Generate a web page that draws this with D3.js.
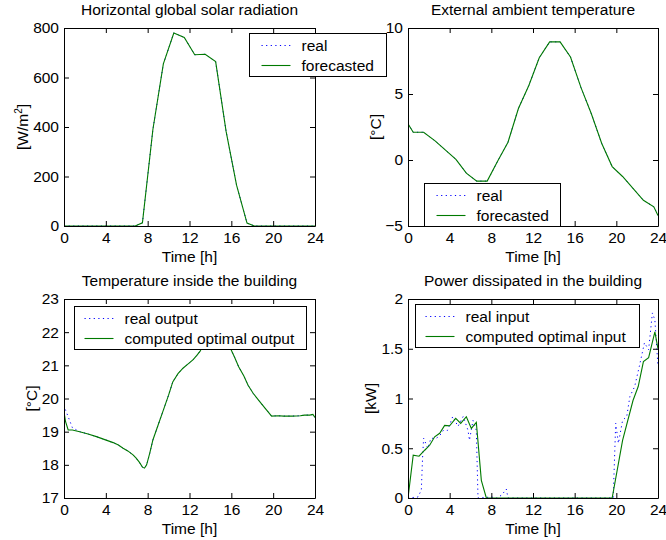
<!DOCTYPE html>
<html>
<head>
<meta charset="utf-8">
<script src="https://cdn.jsdelivr.net/npm/d3@7"></script>
<style>
  html, body { margin: 0; padding: 0; background: #fff; }
  svg { display: block; font-family: "Liberation Sans", Arial, Helvetica, sans-serif; }
  .tick text { fill: #000; }
  .tick line, .domain { stroke: #000; }
</style>
</head>
<body>
<div id="chart"></div>
<script>
// hours on the x axis
const hourTicks = [0, 4, 8, 12, 16, 20, 24]

// horizontal global solar radiation [W/m2]
const solarTime = [0, 6.8, 7.5, 8.5, 9.5, 10.5, 11.5, 12.5, 13.5, 14.5, 15.5, 16.5, 17.5, 18.2, 24]
const solarReal = [0, 0, 13, 390, 655, 780, 762, 692, 694, 664, 382, 165, 12, 0, 0]
const solarForecast = [0, 0, 13, 390, 655, 780, 762, 692, 694, 664, 382, 165, 12, 0, 0]

// external ambient temperature [°C]
const extTime = [0, 0.5, 1.5, 2.6, 3.6, 4.6, 5.6, 6.6, 7.6, 8.6, 9.6, 10.6, 11.6, 12.6, 13.6, 14.6, 15.6, 16.6, 17.6, 18.6, 19.6, 20.6, 21.6, 22.6, 23.6, 24]
const extReal = [2.75, 2.1, 2.1, 1.45, 0.75, 0.05, -1.0, -1.6, -1.6, -0.1, 1.35, 3.9, 5.65, 7.75, 8.95, 8.95, 7.8, 5.5, 3.5, 1.25, -0.5, -1.25, -2.15, -3.05, -3.55, -4.2]
const extForecast = [2.75, 2.1, 2.1, 1.45, 0.75, 0.05, -1.0, -1.6, -1.6, -0.1, 1.35, 3.9, 5.65, 7.75, 8.95, 8.95, 7.8, 5.5, 3.5, 1.25, -0.5, -1.25, -2.15, -3.05, -3.55, -4.2]

// temperature inside the building [°C]
const insideTime = [0, 0.15, 0.4, 0.8, 1.5, 2.3, 3.1, 3.9, 4.7, 5.2, 5.65, 6.1, 6.6, 6.9, 7.2, 7.5, 7.7, 7.9, 8.2, 8.5, 9.0, 9.5, 10.0, 10.4, 10.9, 11.4, 11.9, 12.35, 12.7, 13.0, 13.5, 14.0, 14.5, 15.0, 15.5, 15.9, 16.3, 16.7, 17.2, 17.6, 18.1, 18.6, 19.2, 19.85, 20.5, 21.0, 21.8, 22.6, 23.0, 23.5, 23.8, 24]
const insideReal = [19.8, 19.65, 19.45, 19.12, 19.0, 18.93, 18.85, 18.76, 18.67, 18.6, 18.5, 18.42, 18.3, 18.2, 18.08, 17.93, 17.9, 18.0, 18.35, 18.75, 19.2, 19.65, 20.1, 20.5, 20.75, 20.92, 21.05, 21.17, 21.3, 21.42, 21.72, 21.95, 22.1, 22.05, 21.8, 21.52, 21.25, 20.96, 20.68, 20.4, 20.15, 19.95, 19.72, 19.47, 19.48, 19.47, 19.47, 19.48, 19.5, 19.5, 19.52, 19.43]
const insideOptimal = [19.6, 19.3, 19.05, 19.05, 19.0, 18.93, 18.85, 18.76, 18.67, 18.6, 18.5, 18.42, 18.3, 18.2, 18.08, 17.93, 17.9, 18.0, 18.35, 18.75, 19.2, 19.65, 20.1, 20.5, 20.75, 20.92, 21.05, 21.17, 21.3, 21.42, 21.72, 21.95, 22.1, 22.05, 21.8, 21.52, 21.25, 20.96, 20.68, 20.4, 20.15, 19.95, 19.72, 19.47, 19.48, 19.47, 19.47, 19.48, 19.5, 19.5, 19.52, 19.43]

// power dissipated in the building [kW]
const powerRealTime = [0, 0.96, 1.28, 1.4, 1.5, 1.9, 2.2, 2.7, 3.0, 3.4, 3.8, 4.3, 4.8, 5.3, 5.76, 5.9, 6.24, 6.56, 6.72, 8.0, 8.5, 9.0, 9.44, 9.6, 19.7, 19.94, 20.2, 20.6, 21.0, 21.3, 21.76, 22.2, 22.7, 23.1, 23.46, 23.7, 24]
const powerReal = [0, 0.01, 0.08, 0.41, 0.6, 0.5, 0.6, 0.6, 0.62, 0.68, 0.68, 0.82, 0.72, 0.82, 0.68, 0.58, 0.78, 0.68, 0, 0.01, 0, 0.03, 0.09, 0, 0, 0.75, 0.55, 0.78, 0.82, 1.02, 1.12, 1.32, 1.56, 1.49, 1.86, 1.79, 1.32]
const powerOptTime = [0, 0.5, 1.06, 1.6, 2.08, 2.56, 3.04, 3.52, 4.0, 4.58, 5.06, 5.6, 6.08, 6.56, 7.04, 7.52, 19.6, 20.6, 21.6, 22.1, 22.6, 23.1, 23.7, 24]
const powerOpt = [0, 0.43, 0.42, 0.48, 0.53, 0.615, 0.65, 0.73, 0.726, 0.8, 0.75, 0.817, 0.7, 0.76, 0.178, 0, 0, 0.58, 0.98, 1.12, 1.37, 1.41, 1.67, 1.5]

const blue = '#0000ff'
const green = '#007a00'
const fontSize = 15.5

const svg = d3.select('#chart').append('svg')
  .attr('width', 666)
  .attr('height', 540)

function zip (xs, ys) {
  return xs.map((x, i) => [x, ys[i]])
}

function panel (opts) {
  const { left, top, width, height } = opts
  const x = d3.scaleLinear().domain([0, 24]).range([0, width])
  const y = d3.scaleLinear().domain(opts.yDomain).range([height, 0])

  const g = svg.append('g').attr('transform', `translate(${left}, ${top})`)

  const clipId = 'clip-' + opts.id
  g.append('clipPath').attr('id', clipId)
    .append('rect').attr('width', width).attr('height', height)

  g.append('rect').attr('width', width).attr('height', height).attr('fill', '#fff')

  // series: dotted "real" under the solid line
  const line = d3.line().x((d) => x(d[0])).y((d) => y(d[1]))
  const plot = g.append('g').attr('clip-path', `url(#${clipId})`)
  plot.append('path')
    .datum(opts.dotted)
    .attr('fill', 'none')
    .attr('stroke', blue)
    .attr('stroke-width', 1)
    .attr('stroke-dasharray', '1.2,3.4')
    .attr('d', line)
  plot.append('path')
    .datum(opts.solid)
    .attr('fill', 'none')
    .attr('stroke', green)
    .attr('stroke-width', 1.1)
    .attr('d', line)

  // axes, matlab style box with inner ticks
  const tick = 5
  const axes = g.append('g')
  axes.append('g').attr('transform', `translate(0, ${height})`)
    .call(d3.axisBottom(x).tickValues(hourTicks).tickSizeInner(-tick).tickSizeOuter(0).tickPadding(6))
  axes.append('g')
    .call(d3.axisTop(x).tickValues(hourTicks).tickSizeInner(-tick).tickSizeOuter(0).tickFormat(''))
  axes.append('g')
    .call(d3.axisLeft(y).tickValues(opts.yTicks).tickSizeInner(-tick).tickSizeOuter(0).tickPadding(5).tickFormat(opts.yFormat || d3.format('')))
  axes.append('g').attr('transform', `translate(${width}, 0)`)
    .call(d3.axisRight(y).tickValues(opts.yTicks).tickSizeInner(-tick).tickSizeOuter(0).tickFormat(''))

  axes.selectAll('g').attr('font-family', null).attr('font-size', fontSize)
  axes.selectAll('.domain').attr('stroke-width', 1)

  // title and labels
  g.append('text')
    .attr('x', width / 2)
    .attr('y', -13)
    .attr('text-anchor', 'middle')
    .attr('font-size', fontSize)
    .text(opts.title)

  g.append('text')
    .attr('x', width / 2)
    .attr('y', height + 36)
    .attr('text-anchor', 'middle')
    .attr('font-size', fontSize)
    .text('Time [h]')

  const yl = g.append('text')
    .attr('transform', `translate(${opts.yLabelX}, ${height / 2}) rotate(-90)`)
    .attr('text-anchor', 'middle')
    .attr('font-size', fontSize)
  if (opts.yLabelSup) {
    yl.append('tspan').text(opts.yLabel)
    yl.append('tspan').attr('font-size', 10).attr('dy', -6).text(opts.yLabelSup)
    yl.append('tspan').attr('dy', 6).text(']')
  } else {
    yl.text(opts.yLabel)
  }

  // legend
  const lg = svg.append('g').attr('transform', `translate(${opts.legend.x}, ${opts.legend.y})`)
  lg.append('rect')
    .attr('width', opts.legend.w)
    .attr('height', 43)
    .attr('fill', '#fff')
    .attr('stroke', '#000')
    .attr('stroke-width', 1)
  const rows = [
    { label: opts.legend.labels[0], color: blue, dash: '1.2,3.4' },
    { label: opts.legend.labels[1], color: green, dash: null }
  ]
  rows.forEach((r, i) => {
    const ry = 12 + i * 20
    lg.append('line')
      .attr('x1', opts.legend.pad).attr('x2', opts.legend.pad + 29)
      .attr('y1', ry).attr('y2', ry)
      .attr('stroke', r.color)
      .attr('stroke-width', 1.1)
      .attr('stroke-dasharray', r.dash)
    lg.append('text')
      .attr('x', opts.legend.pad + 40)
      .attr('y', ry + 5)
      .attr('font-size', fontSize)
      .text(r.label)
  })
}

panel({
  id: 'solar',
  left: 64, top: 28, width: 251, height: 198,
  yDomain: [0, 800], yTicks: [0, 200, 400, 600, 800],
  title: 'Horizontal global solar radiation',
  yLabel: '[W/m', yLabelSup: '2', yLabelX: -36,
  dotted: zip(solarTime, solarReal),
  solid: zip(solarTime, solarForecast),
  legend: { x: 249.5, y: 33.5, w: 137, pad: 12, labels: ['real', 'forecasted'] }
})

panel({
  id: 'ext',
  left: 408, top: 28, width: 250, height: 198,
  yDomain: [-5, 10], yTicks: [-5, 0, 5, 10],
  yFormat: (d) => d < 0 ? '\u2212' + Math.abs(d) : d,
  title: 'External ambient temperature',
  yLabel: '[°C]', yLabelX: -27,
  dotted: zip(extTime, extReal),
  solid: zip(extTime, extForecast),
  legend: { x: 424.5, y: 183.5, w: 136, pad: 12, labels: ['real', 'forecasted'] }
})

panel({
  id: 'inside',
  left: 64, top: 299, width: 251, height: 199,
  yDomain: [17, 23], yTicks: [17, 18, 19, 20, 21, 22, 23],
  title: 'Temperature inside the building',
  yLabel: '[°C]', yLabelX: -27,
  dotted: zip(insideTime, insideReal),
  solid: zip(insideTime, insideOptimal),
  legend: { x: 74.5, y: 306.5, w: 232, pad: 10, labels: ['real output', 'computed optimal output'] }
})

panel({
  id: 'power',
  left: 408, top: 299, width: 250, height: 199,
  yDomain: [0, 2], yTicks: [0, 0.5, 1, 1.5, 2],
  title: 'Power dissipated in the building',
  yLabel: '[kW]', yLabelX: -32,
  dotted: zip(powerRealTime, powerReal),
  solid: zip(powerOptTime, powerOpt),
  legend: { x: 415.5, y: 304.5, w: 224, pad: 10, labels: ['real input', 'computed optimal input'] }
})
</script>
</body>
</html>
